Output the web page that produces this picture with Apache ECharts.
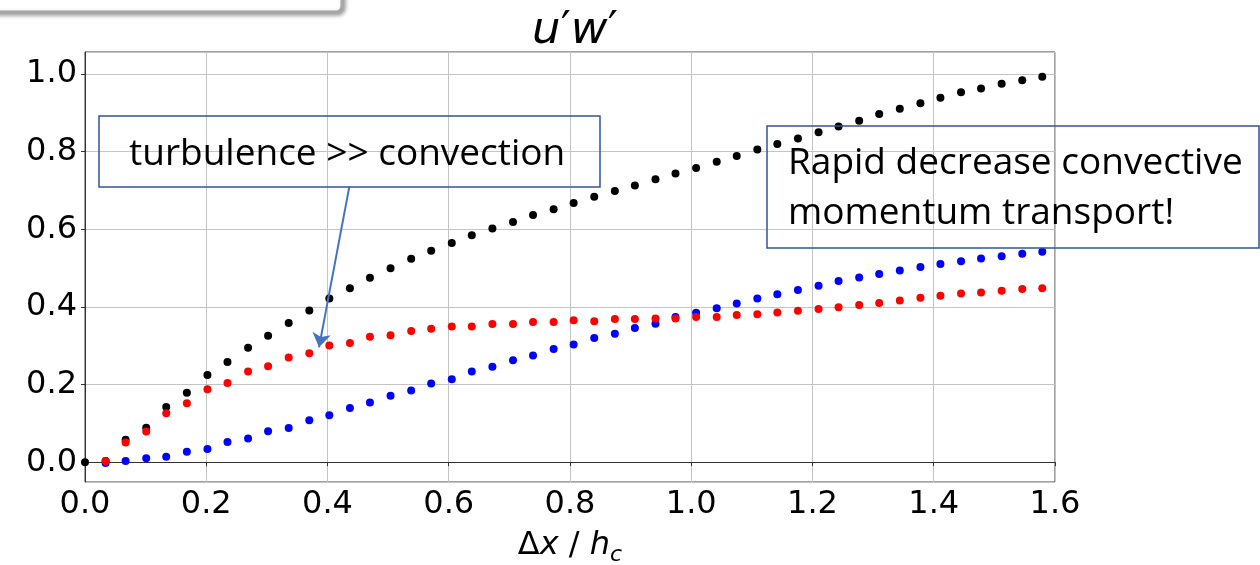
<!DOCTYPE html>
<html>
<head>
<meta charset="utf-8">
<script src="https://cdn.jsdelivr.net/npm/echarts@6/dist/echarts.min.js"></script>
<style>
html,body{margin:0;padding:0;background:#fff;}
#chart{width:1260px;height:565px;}
</style>
</head>
<body>
<div id="chart"></div>
<script>
// x positions (Δx / h_c)
const xValues = [0, 0.034, 0.067, 0.101, 0.134, 0.168, 0.202, 0.235, 0.269, 0.302,
  0.336, 0.370, 0.403, 0.437, 0.470, 0.504, 0.538, 0.571, 0.605, 0.638,
  0.672, 0.706, 0.739, 0.773, 0.806, 0.840, 0.874, 0.907, 0.941, 0.974,
  1.008, 1.042, 1.075, 1.109, 1.142, 1.176, 1.210, 1.243, 1.277, 1.310,
  1.344, 1.378, 1.411, 1.445, 1.478, 1.512, 1.546, 1.579];

const blackValues = [0, 0.003, 0.058, 0.089, 0.142, 0.179, 0.225, 0.258, 0.295, 0.326,
  0.359, 0.391, 0.422, 0.448, 0.475, 0.500, 0.524, 0.545, 0.565, 0.585,
  0.602, 0.619, 0.637, 0.652, 0.668, 0.684, 0.699, 0.713, 0.729, 0.744,
  0.758, 0.774, 0.789, 0.806, 0.820, 0.834, 0.850, 0.865, 0.880, 0.897,
  0.911, 0.925, 0.939, 0.953, 0.963, 0.975, 0.984, 0.993];

const redValues = [null, 0.003, 0.051, 0.079, 0.126, 0.152, 0.188, 0.204, 0.234, 0.247,
  0.270, 0.281, 0.301, 0.307, 0.323, 0.327, 0.338, 0.344, 0.350, 0.350,
  0.356, 0.356, 0.361, 0.361, 0.366, 0.363, 0.369, 0.369, 0.370, 0.370,
  0.374, 0.374, 0.379, 0.381, 0.386, 0.390, 0.395, 0.399, 0.405, 0.410,
  0.417, 0.424, 0.429, 0.435, 0.437, 0.442, 0.446, 0.448];

const blueValues = [null, -0.002, 0.003, 0.010, 0.014, 0.027, 0.034, 0.052, 0.061, 0.080,
  0.088, 0.108, 0.121, 0.140, 0.154, 0.171, 0.185, 0.203, 0.214, 0.234,
  0.246, 0.263, 0.275, 0.292, 0.303, 0.320, 0.331, 0.346, 0.357, 0.374,
  0.385, 0.397, 0.409, 0.422, 0.433, 0.444, 0.455, 0.467, 0.476, 0.485,
  0.494, 0.503, 0.511, 0.518, 0.525, 0.531, 0.537, 0.542];

const titleText = "{i|u}{p|′}{i|w}{p|′}";
const box1Text = "turbulence >> convection";
const box2Text = "Rapid decrease convective\nmomentum transport!";
// arrow from annotation box to the red curve, in data coordinates
const arrowStart = [0.436, 0.710];
const arrowEnd = [0.386, 0.296];

function pairs(ys) {
  const out = [];
  ys.forEach((y, i) => { if (y !== null) out.push([xValues[i], y]); });
  return out;
}

const chart = echarts.init(document.getElementById('chart'), null, {renderer: 'canvas'});
const tickFont = {fontFamily: 'DejaVu Sans', fontSize: 32, color: '#000'};

chart.setOption({
  animation: false,
  backgroundColor: '#fff',
  grid: {left: 85, right: 205, top: 52, bottom: 83, show: true, borderColor: '#444', borderWidth: 1,
    containLabel: false, outerBoundsMode: 'none'},
  xAxis: {
    type: 'value', min: 0, max: 1.6, interval: 0.2,
    axisLine: {show: true, lineStyle: {color: '#333', width: 1}},
    axisTick: {show: true, inside: false, length: 4, lineStyle: {color: '#333'}},
    axisLabel: Object.assign({margin: 7, formatter: v => v.toFixed(1)}, tickFont),
    splitLine: {show: true, lineStyle: {color: '#c4c4c4', width: 1}},
    name: '{n|Δ}{i|x}{n| / }{i|h}{s|c}',
    nameLocation: 'middle', nameGap: 44, nameMoveOverlap: false,
    nameTextStyle: {
      rich: {
        n: {fontFamily: 'DejaVu Sans', fontSize: 32, color: '#000', lineHeight: 40},
        i: {fontFamily: 'DejaVu Sans', fontStyle: 'italic', fontSize: 32, color: '#000', lineHeight: 40},
        s: {fontFamily: 'DejaVu Sans', fontStyle: 'italic', fontSize: 22, color: '#000', lineHeight: 22, verticalAlign: 'bottom'}
      }
    }
  },
  yAxis: {
    type: 'value', min: -0.051, max: 1.057, splitNumber: 5,
    axisLine: {show: true, lineStyle: {color: '#333', width: 1}},
    axisTick: {show: true, inside: false, length: 4, lineStyle: {color: '#333'}},
    axisLabel: Object.assign({margin: 8, showMinLabel: false, showMaxLabel: false,
      formatter: v => (Math.abs(v / 0.2 - Math.round(v / 0.2)) < 1e-6 ? v.toFixed(1) : '')}, tickFont),
    splitLine: {show: true, lineStyle: {color: '#c4c4c4', width: 1}}
  },
  series: [
    {type: 'scatter', name: 'black', data: pairs(blackValues), symbol: 'circle', symbolSize: 8,
      itemStyle: {color: '#000', opacity: 1}, z: 3},
    {type: 'scatter', name: 'blue', data: pairs(blueValues), symbol: 'circle', symbolSize: 8,
      itemStyle: {color: '#0000ff', opacity: 1}, z: 4},
    {type: 'scatter', name: 'red', data: pairs(redValues), symbol: 'circle', symbolSize: 8,
      itemStyle: {color: '#ff0000', opacity: 1}, z: 5,
      markLine: {
        silent: true, animation: false,
        symbol: ['none', 'arrow'], symbolSize: 14,
        label: {show: false},
        lineStyle: {color: '#4472c4', width: 2, type: 'solid'},
        emphasis: {disabled: true},
        data: [[{coord: arrowStart}, {coord: arrowEnd}]]
      }}
  ],
  graphic: [
    {type: 'rect', z: 10, shape: {x: -20, y: -30, width: 362, height: 42, r: 6},
      style: {fill: '#fff', stroke: '#a6a6a6', lineWidth: 3, shadowBlur: 4, shadowColor: 'rgba(0,0,0,0.35)', shadowOffsetX: 2, shadowOffsetY: 2}},
    {type: 'text', z: 10, x: 575, y: 31,
      style: {text: titleText, align: 'center', verticalAlign: 'middle',
        rich: {
          i: {fontFamily: 'DejaVu Sans', fontStyle: 'italic', fontSize: 45, fill: '#000', lineHeight: 50},
          p: {fontFamily: 'DejaVu Sans', fontSize: 45, fill: '#000', lineHeight: 50}
        }}},
    {type: 'rect', z: 10, shape: {x: 99, y: 116, width: 501, height: 71},
      style: {fill: 'none', stroke: '#2f5597', lineWidth: 1.5}},
    {type: 'text', z: 11, x: 129, y: 154,
      style: {text: box1Text, fontFamily: 'Open Sans', fontSize: 37, fill: '#000', align: 'left', verticalAlign: 'middle'}},
    {type: 'rect', z: 10, shape: {x: 767, y: 126, width: 492, height: 122},
      style: {fill: 'none', stroke: '#2f5597', lineWidth: 1.5}},
    {type: 'text', z: 11, x: 788, y: 188,
      style: {text: box2Text, fontFamily: 'Open Sans', fontSize: 37, lineHeight: 50, fill: '#000', align: 'left', verticalAlign: 'middle'}}
  ]
});
</script>
</body>
</html>
